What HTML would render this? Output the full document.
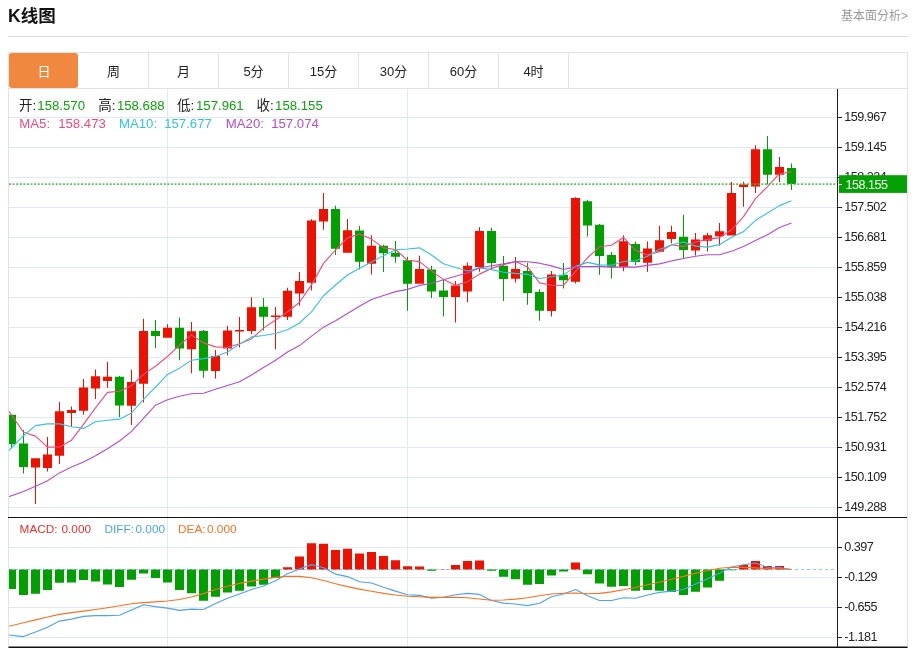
<!DOCTYPE html>
<html lang="zh-CN"><head><meta charset="utf-8"><title>K线图</title><style>
*{margin:0;padding:0;box-sizing:border-box}
html,body{width:918px;height:648px;background:#fff;overflow:hidden}
body{position:relative;font-family:"Liberation Sans","Noto Sans CJK SC",sans-serif;color:#222}
.title{position:absolute;left:8px;top:4px;font-size:17.5px;font-weight:bold;line-height:24px;color:#111}
.more{position:absolute;right:10px;top:7.5px;font-size:12px;line-height:16px;color:#999}
.hr{position:absolute;left:8px;top:36px;width:900px;height:1px;background:#dcdcdc}
.box{position:absolute;left:8px;top:52px;width:900px;height:600px;border:1px solid #e2e2e2}
.tabs{position:absolute;left:9px;top:53px;height:35px;width:898px}
.tabs span{position:absolute;top:0;height:35px;width:70px;text-align:center;line-height:37px;font-size:13px;padding-left:1px;border-right:1px solid #e2e2e2;color:#222}
.tabs span.on{background:#f0883f;color:#fff;border-radius:3px;border-right:none;width:69px}
.tabline{position:absolute;left:9px;top:88px;width:898px;height:1px;background:#e2e2e2}
.info{position:absolute;left:19px;white-space:pre;font-size:13.2px;line-height:16px}
.info b{font-weight:normal}
.l12{position:absolute;font-size:11.6px;line-height:14px;white-space:pre}
</style></head><body>
<div class="title">K线图</div>
<div class="more">基本面分析&gt;</div>
<div class="hr"></div>
<div class="box"></div>
<div class="tabs"><span class="on" style="left:0px;">日</span><span class="" style="left:69px;width:71px;">周</span><span class="" style="left:139px;width:71px;">月</span><span class="" style="left:209px;width:71px;">5分</span><span class="" style="left:279px;width:71px;">15分</span><span class="" style="left:349px;width:71px;">30分</span><span class="" style="left:419px;width:71px;">60分</span><span class="" style="left:489px;width:71px;">4时</span></div>
<div class="tabline"></div>
<svg width="918" height="648" viewBox="0 0 918 648" style="position:absolute;left:0;top:0"><defs><clipPath id="ck"><rect x="9" y="89" width="828.5" height="428.5"/></clipPath><clipPath id="cm"><rect x="9" y="518" width="828.5" height="129"/></clipPath></defs><path d="M9 117.5H837M9 147.5H837M9 177.5H837M9 207.5H837M9 237.5H837M9 267.5H837M9 297.5H837M9 327.5H837M9 357.5H837M9 387.5H837M9 417.5H837M9 447.5H837M9 477.5H837M9 507.5H837M9 547.5H837M9 577.5H837M9 607.5H837M9 637.5H837M167.5 89V647M407.5 89V647" stroke="#e0eaf2" stroke-width="1" fill="none"/><path d="M9 569.5H835" stroke="#84cdee" stroke-width="1.2" stroke-dasharray="3 3" fill="none"/><g clip-path="url(#ck)"><path d="M31 458.2h9V467.6h-9zM35 458.2h1V503.9h-1zM43 454.6h9V468h-9zM47 437.1h1V471.5h-1zM55 411.2h9V455.8h-9zM59 402.1h1V464.1h-1zM67 410h9V412.9h-9zM71 406.6h1V426.5h-1zM79 387.5h9V410.7h-9zM83 379h1V414.8h-1zM91 376.3h9V388.5h-9zM95 369.4h1V399h-1zM103 376.7h9V381h-9zM107 362h1V387.7h-1zM127 382.1h9V405.8h-9zM131 369.7h1V424.9h-1zM139 331h9V383.8h-9zM143 318.8h1V402.5h-1zM163 327.8h9V337.8h-9zM167 324.2h1V337.8h-1zM187 331.3h9V349.3h-9zM191 321.9h1V373.3h-1zM211 356h9V370.9h-9zM215 350.1h1V378.5h-1zM223 330.6h9V348.4h-9zM227 325.9h1V355.5h-1zM235 330h9V331.5h-9zM239 317h1V347.5h-1zM247 307.3h9V331.1h-9zM251 297.3h1V333.9h-1zM271 315.5h9V317h-9zM275 307.1h1V349.3h-1zM283 290.7h9V316.8h-9zM287 287.7h1V320h-1zM295 281.1h9V293.5h-9zM299 271.9h1V305.7h-1zM307 220.4h9V282.8h-9zM311 219.2h1V290.5h-1zM319 209.1h9V221.5h-9zM323 193.1h1V229.8h-1zM343 230.2h9V252.7h-9zM347 218.9h1V252.7h-1zM367 245.7h9V263.7h-9zM371 235.2h1V274.6h-1zM415 269h9V283.8h-9zM419 255.7h1V283.8h-1zM451 285.4h9V296.9h-9zM455 281h1V322.5h-1zM463 265.7h9V291.5h-9zM467 262.5h1V302.3h-1zM475 231h9V267.1h-9zM479 227.3h1V271.8h-1zM511 269h9V278.7h-9zM515 257.1h1V282.4h-1zM547 274.5h9V310.9h-9zM551 271h1V316.6h-1zM571 198h9V281.8h-9zM575 197.3h1V283.6h-1zM619 241.2h9V266.7h-9zM623 235.3h1V271.2h-1zM643 248.6h9V262.7h-9zM647 241.4h1V271.8h-1zM655 240.2h9V251.7h-9zM659 225.8h1V251.7h-1zM667 232h9V239h-9zM671 225.7h1V243.3h-1zM691 239.4h9V250.6h-9zM695 233h1V255.5h-1zM703 235.2h9V240.8h-9zM707 232.8h1V251.6h-1zM715 231.3h9V236.2h-9zM719 223h1V245.7h-1zM727 193.1h9V235.6h-9zM731 181.9h1V235.6h-1zM739 184.4h9V187h-9zM743 181.8h1V206.7h-1zM751 149.2h9V186.5h-9zM755 145.3h1V193.1h-1zM775 167h9V174.8h-9zM779 157h1V181.9h-1z" fill="#ee1100"/><path d="M7 414.8h9V444.3h-9zM11 414.8h1V447.9h-1zM19 443.6h9V466.9h-9zM23 430h1V473.5h-1zM115 376.7h9V405.6h-9zM119 376h1V417h-1zM151 331h9V335.9h-9zM155 320h1V347.9h-1zM175 327.8h9V348.6h-9zM179 317.5h1V360.2h-1zM199 331.1h9V370.7h-9zM203 330h1V377.7h-1zM259 306.7h9V316.7h-9zM263 298h1V330.4h-1zM331 209.1h9V248.7h-9zM335 205.8h1V254.9h-1zM355 230.5h9V261.7h-9zM359 226h1V269.6h-1zM379 245.7h9V253.2h-9zM383 244.8h1V272h-1zM391 252.7h9V256.7h-9zM395 241h1V262.8h-1zM403 260.3h9V283.8h-9zM407 256.8h1V310.8h-1zM427 269.4h9V291.6h-9zM431 265.8h1V298.3h-1zM439 290.6h9V296.9h-9zM443 279.6h1V316.6h-1zM487 231h9V262.9h-9zM491 227.8h1V268.8h-1zM499 265.7h9V278.9h-9zM503 256.1h1V300.9h-1zM523 271h9V292.9h-9zM527 262.8h1V304.7h-1zM535 292h9V310.8h-9zM539 289.2h1V320.8h-1zM559 274.7h9V280.2h-9zM563 262.9h1V288.4h-1zM583 201.2h9V225.4h-9zM587 199.9h1V236.4h-1zM595 224.7h9V255.9h-9zM599 224h1V274.7h-1zM607 255h9V266.7h-9zM611 251.9h1V278.5h-1zM631 244.1h9V262.1h-9zM635 241.6h1V265.3h-1zM679 236.7h9V250h-9zM683 214.8h1V257.9h-1zM763 149.2h9V174.8h-9zM767 136.1h1V184.4h-1zM787 168h9V184h-9zM791 163.5h1V190.1h-1z" fill="#00a000"/><polyline points="8.5,410.8 23.5,432.2 35.5,436.1 47.5,447.1 59.5,447.04 71.5,440.18 83.5,424.3 95.5,407.92 107.5,392.34 119.5,391.22 131.5,385.64 143.5,374.34 155.5,366.26 167.5,356.48 179.5,345.08 191.5,334.92 203.5,342.86 215.5,346.88 227.5,347.44 239.5,343.72 251.5,338.92 263.5,328.12 275.5,320.02 287.5,312.04 299.5,302.26 311.5,284.88 323.5,263.36 335.5,250 347.5,237.9 359.5,234.02 371.5,239.08 383.5,247.9 395.5,249.5 407.5,260.22 419.5,261.68 431.5,270.86 443.5,279.6 455.5,285.34 467.5,281.72 479.5,274.12 491.5,268.38 503.5,264.78 515.5,261.5 527.5,266.94 539.5,282.9 551.5,285.22 563.5,285.48 575.5,271.28 587.5,257.78 599.5,246.8 611.5,245.24 623.5,237.44 635.5,250.26 647.5,254.9 659.5,251.76 671.5,244.82 683.5,246.58 695.5,242.04 707.5,239.36 719.5,237.58 731.5,229.8 743.5,216.68 755.5,198.64 767.5,186.56 779.5,173.7 791.5,171.88" fill="none" stroke="#ee4b7d" stroke-width="1.12" stroke-linejoin="round"/><polyline points="8.5,450.9 23.5,435.7 35.5,425.6 47.5,423.9 59.5,423.9 71.5,426.7 83.5,428.4 95.5,421.8 107.5,420.2 119.5,419.13 131.5,412.91 143.5,399.32 155.5,387.09 167.5,374.41 179.5,368.15 191.5,360.28 203.5,358.6 215.5,356.57 227.5,351.96 239.5,344.4 251.5,336.92 263.5,335.49 275.5,333.45 287.5,329.74 299.5,322.99 311.5,311.9 323.5,295.74 335.5,285.01 347.5,274.97 359.5,268.14 371.5,261.98 383.5,255.63 395.5,249.75 407.5,249.06 419.5,247.85 431.5,254.97 443.5,263.75 455.5,267.42 467.5,270.97 479.5,267.9 491.5,269.62 503.5,272.19 515.5,273.42 527.5,274.33 539.5,278.51 551.5,276.8 563.5,275.13 575.5,266.39 587.5,262.36 599.5,264.85 611.5,265.23 623.5,261.46 635.5,260.77 647.5,256.34 659.5,249.28 671.5,245.03 683.5,242.01 695.5,246.15 707.5,247.13 719.5,244.67 731.5,237.31 743.5,231.63 755.5,220.34 767.5,212.96 779.5,205.64 791.5,200.84" fill="none" stroke="#35c3dc" stroke-width="1.12" stroke-linejoin="round"/><polyline points="8.5,496.9 23.5,491.5 35.5,486.3 47.5,480.7 59.5,472.9 71.5,467.1 83.5,461.9 95.5,455.8 107.5,448.8 119.5,441 131.5,431.4 143.5,418.3 155.5,405.2 167.5,399.8 179.5,396.3 191.5,393.7 203.5,393.2 215.5,389.3 227.5,385.5 239.5,381.76 251.5,374.92 263.5,367.41 275.5,360.27 287.5,352.07 299.5,345.57 311.5,336.09 323.5,327.17 335.5,320.79 347.5,313.47 359.5,306.27 371.5,299.45 383.5,295.56 395.5,291.6 407.5,289.4 419.5,285.42 431.5,283.44 443.5,279.75 455.5,276.22 467.5,272.97 479.5,268.02 491.5,265.8 503.5,263.91 515.5,261.58 527.5,261.7 539.5,263.18 551.5,265.88 563.5,269.44 575.5,266.9 587.5,266.67 599.5,266.38 611.5,267.43 623.5,266.82 635.5,267.09 647.5,265.33 659.5,263.89 671.5,260.92 683.5,258.57 695.5,256.27 707.5,254.74 719.5,254.76 731.5,251.27 743.5,246.54 755.5,240.56 767.5,234.65 779.5,227.46 791.5,222.94" fill="none" stroke="#b14fc8" stroke-width="1.12" stroke-linejoin="round"/></g><path d="M9 184.1H836.5" stroke="#44ba44" stroke-opacity="0.9" stroke-width="1.9" stroke-dasharray="1.9 1.7" fill="none"/><g clip-path="url(#cm)"><path d="M283 567.2h9V569.5h-9zM295 556.4h9V569.5h-9zM307 543.2h9V569.5h-9zM319 543.7h9V569.5h-9zM331 550.1h9V569.5h-9zM343 548.7h9V569.5h-9zM355 553.6h9V569.5h-9zM367 552.1h9V569.5h-9zM379 556h9V569.5h-9zM391 560.3h9V569.5h-9zM403 566.2h9V569.5h-9zM415 566.4h9V569.5h-9zM439 569.2h9V569.5h-9zM451 565h9V569.5h-9zM463 561.1h9V569.5h-9zM475 560.5h9V569.5h-9zM571 562.6h9V569.5h-9zM739 565h9V569.5h-9zM751 561.1h9V569.5h-9zM763 566h9V569.5h-9zM775 566h9V569.5h-9z" fill="#ee1100"/><path d="M7 569.5h9V589.1h-9zM19 569.5h9V595h-9zM31 569.5h9V593.8h-9zM43 569.5h9V590.1h-9zM55 569.5h9V582.8h-9zM67 569.5h9V582.6h-9zM79 569.5h9V580.1h-9zM91 569.5h9V581.5h-9zM103 569.5h9V584.6h-9zM115 569.5h9V587h-9zM127 569.5h9V579.7h-9zM139 569.5h9V573.4h-9zM151 569.5h9V577.9h-9zM163 569.5h9V582.6h-9zM175 569.5h9V590h-9zM187 569.5h9V593.2h-9zM199 569.5h9V600.7h-9zM211 569.5h9V596.8h-9zM223 569.5h9V592.5h-9zM235 569.5h9V590.7h-9zM247 569.5h9V586.6h-9zM259 569.5h9V584.8h-9zM271 569.5h9V578.1h-9zM427 569.5h9V570.7h-9zM487 569.5h9V570.8h-9zM499 569.5h9V576.8h-9zM511 569.5h9V579.3h-9zM523 569.5h9V584.8h-9zM535 569.5h9V584h-9zM547 569.5h9V575.4h-9zM559 569.5h9V571.5h-9zM583 569.5h9V574.2h-9zM595 569.5h9V583.4h-9zM607 569.5h9V586.8h-9zM619 569.5h9V586h-9zM631 569.5h9V590.7h-9zM643 569.5h9V590.1h-9zM655 569.5h9V590.8h-9zM667 569.5h9V592.1h-9zM679 569.5h9V595h-9zM691 569.5h9V591.7h-9zM703 569.5h9V587.5h-9zM715 569.5h9V580.7h-9zM727 569.5h9V570.3h-9z" fill="#00a000"/><polyline points="8.5,635 23.5,636.6 35.5,632.1 47.5,627.2 59.5,621.1 71.5,619.1 83.5,616.4 95.5,615.6 107.5,615.6 119.5,615.2 131.5,610.1 143.5,604.8 155.5,606.6 167.5,608.1 179.5,610.4 191.5,609.1 203.5,609.5 215.5,603.6 227.5,598.3 239.5,594 251.5,589.5 263.5,586 275.5,580.7 287.5,573.8 299.5,568.9 311.5,564.6 323.5,567.7 335.5,574.1 347.5,576.6 359.5,581.7 371.5,583 383.5,587.2 395.5,591.1 407.5,594.8 419.5,595.4 431.5,598.1 443.5,597.2 455.5,594.8 467.5,593.4 479.5,594.4 491.5,600.5 503.5,603.1 515.5,604 527.5,605.6 539.5,603.2 551.5,596.8 563.5,594 575.5,589.5 587.5,595.8 599.5,600.5 611.5,600.5 623.5,597.7 635.5,598.3 647.5,595 659.5,592.4 671.5,591.1 683.5,589.5 695.5,584 707.5,578.7 719.5,573.2 731.5,567 743.5,564.8 755.5,563 767.5,567.2 779.5,567.5 791.5,569.5" fill="none" stroke="#4da3ee" stroke-width="1.12" stroke-linejoin="round"/><polyline points="8.5,626.4 23.5,622.8 35.5,619.9 47.5,617 59.5,614.4 71.5,612.6 83.5,611.1 95.5,609.5 107.5,607.7 119.5,605.8 131.5,603.8 143.5,602.6 155.5,601.9 167.5,601 179.5,599.5 191.5,597 203.5,593.6 215.5,589.5 227.5,586.2 239.5,583.4 251.5,581.1 263.5,579.1 275.5,577.4 287.5,576.2 299.5,576.4 311.5,577.7 323.5,580.5 335.5,583.8 347.5,586.6 359.5,589.1 371.5,591.3 383.5,593.4 395.5,595 407.5,596.2 419.5,596.8 431.5,597.4 443.5,597.4 455.5,597.2 467.5,597.7 479.5,599 491.5,600.2 503.5,600 515.5,599.1 527.5,597.7 539.5,595.8 551.5,594 563.5,593.2 575.5,593 587.5,593.8 599.5,593.4 611.5,591.9 623.5,589.7 635.5,587.5 647.5,584.7 659.5,582.3 671.5,579.3 683.5,576.4 695.5,573.2 707.5,570.7 719.5,568.3 731.5,567.2 743.5,567.4 755.5,567.9 767.5,568.5 779.5,568.7 791.5,569.5" fill="none" stroke="#f77220" stroke-width="1.12" stroke-linejoin="round"/></g><path d="M8 517.5H907" stroke="#111" stroke-width="1.1" fill="none"/><rect x="8.5" y="646.5" width="899" height="1.5" fill="#111"/><path d="M837.5 89V647" stroke="#222" stroke-width="1" fill="none"/><path d="M838 117.5h4M838 147.5h4M838 177.5h4M838 207.5h4M838 237.5h4M838 267.5h4M838 297.5h4M838 327.5h4M838 357.5h4M838 387.5h4M838 417.5h4M838 447.5h4M838 477.5h4M838 507.5h4M838 547.5h4M838 577.5h4M838 607.5h4M838 637.5h4" stroke="#222" stroke-width="1" fill="none"/><g font-family="Liberation Sans, sans-serif" font-size="12.6" letter-spacing="-0.5" fill="#222"><text x="844.3" y="121.4">159.967</text><text x="844.3" y="151.4">159.145</text><text x="844.3" y="181.4">158.324</text><text x="844.3" y="211.4">157.502</text><text x="844.3" y="241.4">156.681</text><text x="844.3" y="271.4">155.859</text><text x="844.3" y="301.4">155.038</text><text x="844.3" y="331.4">154.216</text><text x="844.3" y="361.4">153.395</text><text x="844.3" y="391.4">152.574</text><text x="844.3" y="421.4">151.752</text><text x="844.3" y="451.4">150.931</text><text x="844.3" y="481.4">150.109</text><text x="844.3" y="511.4">149.288</text><text x="844.3" y="551.4">0.397</text><text x="844.3" y="581.4">-0.129</text><text x="844.3" y="611.4">-0.655</text><text x="844.3" y="641.4">-1.181</text></g><rect x="839" y="175.2" width="68" height="17.7" fill="#03a103"/><path d="M838 184.5h4" stroke="#fff" stroke-width="1"/><text x="845.4" y="188.8" font-family="Liberation Sans, sans-serif" font-size="12.6" letter-spacing="-0.5" fill="#fff">158.155</text></svg>
<svg width="918" height="648" viewBox="0 0 918 648" style="position:absolute;left:0;top:0" font-family="Liberation Sans, Noto Sans CJK SC, sans-serif"><text x="19.0" y="109.7" font-size="13.5" fill="#222">开:</text><text x="37.3" y="109.7" font-size="13.2" fill="#0ca30c">158.570</text><text x="98.2" y="109.7" font-size="13.5" fill="#222">高:</text><text x="116.9" y="109.7" font-size="13.2" fill="#0ca30c">158.688</text><text x="177.1" y="109.7" font-size="13.5" fill="#222">低:</text><text x="196.0" y="109.7" font-size="13.2" fill="#0ca30c">157.961</text><text x="256.4" y="109.7" font-size="13.5" fill="#222">收:</text><text x="275.1" y="109.7" font-size="13.2" fill="#0ca30c">158.155</text><text x="19.3" y="127.8" font-size="13.2" fill="#ee4b7d">MA5:</text><text x="58.2" y="127.8" font-size="13.2" fill="#ee4b7d">158.473</text><text x="119.0" y="127.8" font-size="13.2" fill="#35c3dc">MA10:</text><text x="164.2" y="127.8" font-size="13.2" fill="#35c3dc">157.677</text><text x="225.8" y="127.8" font-size="13.2" fill="#b14fc8">MA20:</text><text x="271.2" y="127.8" font-size="13.2" fill="#b14fc8">157.074</text><text x="19.6" y="533" font-size="11.8" fill="#e8302a">MACD:</text><text x="61.5" y="533" font-size="11.8" fill="#e8302a">0.000</text><text x="104.5" y="533" font-size="11.8" fill="#4da3ee">DIFF:</text><text x="135.5" y="533" font-size="11.8" fill="#4da3ee">0.000</text><text x="178" y="533" font-size="11.8" fill="#f77220">DEA:</text><text x="207" y="533" font-size="11.8" fill="#f77220">0.000</text></svg>
</body></html>
